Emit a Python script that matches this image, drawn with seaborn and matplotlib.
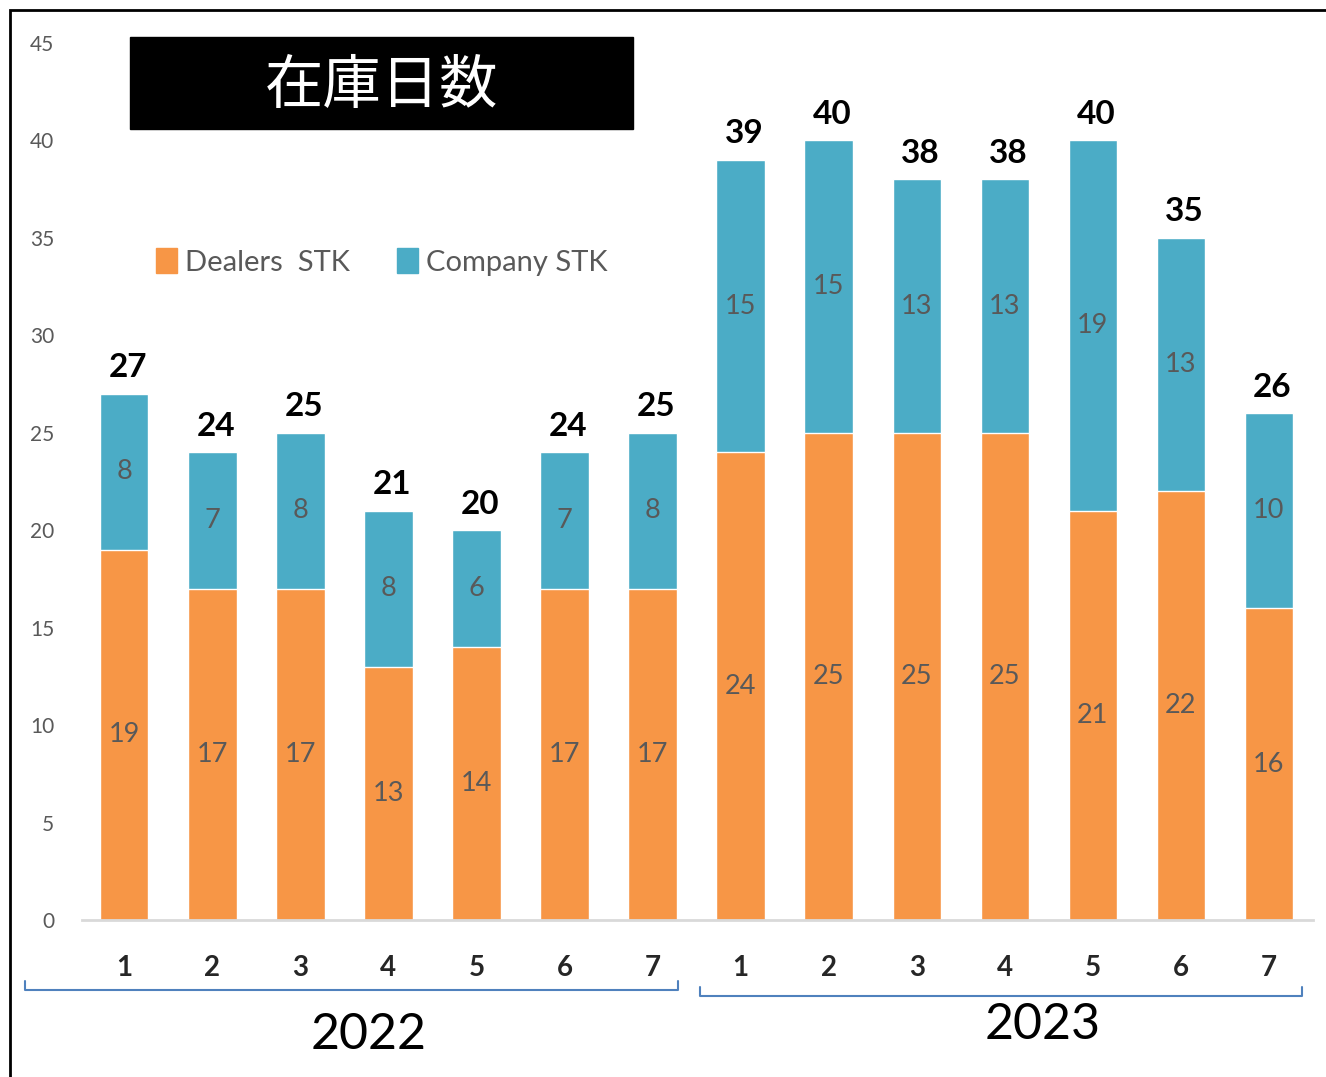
import numpy as np
import pandas as pd
import matplotlib.pyplot as plt
import seaborn as sns
from matplotlib.lines import Line2D
from matplotlib.patches import Rectangle, Patch

# Data
years = [2022] * 7 + [2023] * 7
months = [1, 2, 3, 4, 5, 6, 7, 1, 2, 3, 4, 5, 6, 7]
dealers_stk = [19, 17, 17, 13, 14, 17, 17, 24, 25, 25, 25, 21, 22, 16]
company_stk = [8, 7, 8, 8, 6, 7, 8, 15, 15, 13, 13, 19, 13, 10]

ORANGE = "#F79646"
BLUE = "#4BACC6"
GRAY = "#595959"
W, H = 1326, 1077

sns.set_theme(style="white")
plt.rcParams['font.family'] = ['Lato', 'Noto Sans CJK JP', 'DejaVu Sans']

df = pd.DataFrame({"year": years, "month": months,
                   "dealers": dealers_stk, "company": company_stk})
df["total"] = df["dealers"] + df["company"]
df["period"] = [f"{y}-{m}" for y, m in zip(df["year"], df["month"])]

fig = plt.figure(figsize=(W / 100, H / 100), dpi=100)
ax = fig.add_axes([82 / W, 1 - 920 / H, (1313 - 82) / W, (920 - 43) / H])

# stacked bars: total (blue) behind, dealers (orange) in front
sns.barplot(data=df, x="period", y="total", color=BLUE, saturation=1,
            width=0.55, ax=ax, order=df["period"])
sns.barplot(data=df, x="period", y="dealers", color=ORANGE, saturation=1,
            width=0.55, ax=ax, order=df["period"])

for i, row in df.iterrows():
    ax.text(i, row["dealers"] / 2, str(row["dealers"]), ha="center", va="center",
            fontsize=19.5, color=GRAY)
    ax.text(i, row["dealers"] + row["company"] / 2, str(row["company"]),
            ha="center", va="center", fontsize=19.5, color=GRAY)
    ax.text(i + 0.04, row["total"] + 0.6, str(row["total"]), ha="center",
            va="bottom", fontsize=24, fontweight="bold", color="black")

ax.set_xlim(-0.48, len(df) - 0.5)
ax.set_ylim(0, 45)
ax.set_yticks(np.arange(0, 46, 5))
ax.tick_params(axis="y", length=0, pad=20, labelsize=15, labelcolor=GRAY)
ax.set_xticks(range(len(df)))
ax.set_xticklabels(df["month"], fontsize=20, fontweight="bold")
ax.tick_params(axis="x", length=0, pad=25)
ax.set_xlabel("")
ax.set_ylabel("")
for s in ["top", "right", "left"]:
    ax.spines[s].set_visible(False)
ax.spines["bottom"].set_color("#D9D9D9")
ax.spines["bottom"].set_linewidth(2)

# legend
handles = [Patch(color=ORANGE, label="Dealers  STK"),
           Patch(color=BLUE, label="Company STK")]
leg = fig.legend(handles=handles, loc="center left", ncol=2, frameon=False,
                 bbox_to_anchor=(130 / W, 1 - 262 / H), fontsize=21,
                 handlelength=0.7, handleheight=0.9, handletextpad=0.3,
                 columnspacing=1.6)
for t in leg.get_texts():
    t.set_color(GRAY)

# title box
fig.patches.append(Rectangle((130 / W, 1 - 129 / H), 503 / W, 92 / H,
                             transform=fig.transFigure, color="black"))
fig.text(382 / W, 1 - 86 / H, "在庫日数", color="white", fontsize=42,
         ha="center", va="center", family=['Noto Sans CJK JP'])

# year brackets
def bracket(x0, x1, y, tip):
    xs = np.array([x0, x0, x1, x1]) / W
    ys = 1 - np.array([y - tip, y, y, y - tip]) / H
    fig.lines.append(Line2D(xs, ys, transform=fig.transFigure,
                            color="#4F81BD", lw=1.5))

bracket(25, 678, 990, 9)
bracket(700, 1302, 996, 9)
fig.text(369 / W, 1 - 1035 / H, "2022", fontsize=36, ha="center",
         va="center", color="black")
fig.text(1043 / W, 1 - 1025 / H, "2023", fontsize=36, ha="center",
         va="center", color="black")

# outer frame
fig.patches.append(Rectangle((10 / W, -0.1), 1.2, 1 - 10 / H + 0.1,
                             transform=fig.transFigure, fill=False,
                             edgecolor="black", lw=2))

fig.savefig("out.png", dpi=100)
